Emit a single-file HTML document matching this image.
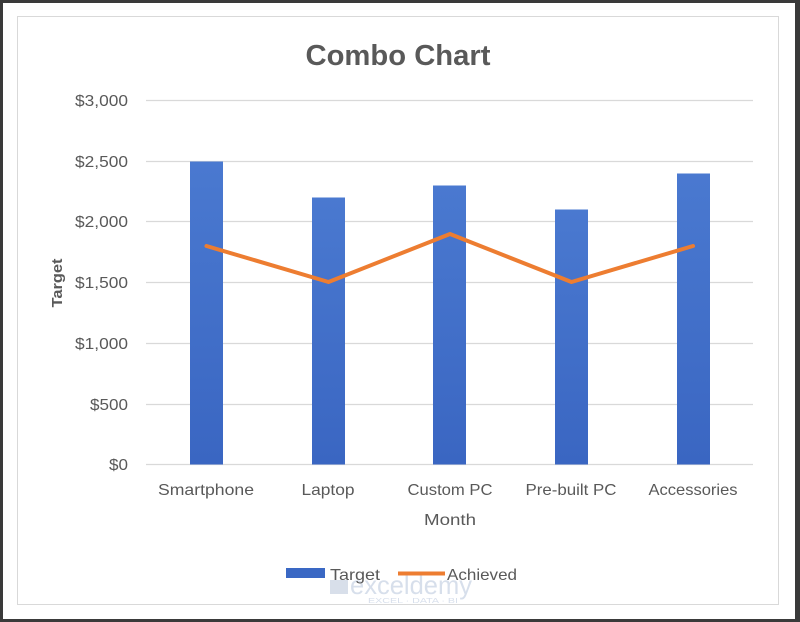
<!DOCTYPE html>
<html>
<head>
<meta charset="utf-8">
<style>
  html, body { margin:0; padding:0; background:#fff; }
  body { width:800px; height:622px; overflow:hidden; }
  svg { display:block; }
  text { font-family: "Liberation Sans", sans-serif; }
</style>
</head>
<body>
<svg width="800" height="622" viewBox="0 0 800 622" xmlns="http://www.w3.org/2000/svg">
  <defs>
    <linearGradient id="bar" x1="0" y1="0" x2="0" y2="1">
      <stop offset="0" stop-color="#4a79d0"/>
      <stop offset="1" stop-color="#3a66c2"/>
    </linearGradient>
  </defs>
  <!-- outer dark frame -->
  <rect x="0" y="0" width="800" height="622" fill="#3a3a3a"/>
  <rect x="3" y="3" width="792" height="616" fill="#ffffff"/>
  <!-- inner chart border -->
  <rect x="17.5" y="16.5" width="761" height="588" fill="#ffffff" stroke="#d9d9d9" stroke-width="1"/>

  <!-- title -->
  <text x="398" y="65" font-size="29" font-weight="bold" fill="#595959" text-anchor="middle" textLength="185" lengthAdjust="spacingAndGlyphs">Combo Chart</text>

  <!-- gridlines -->
  <g stroke="#d9d9d9" stroke-width="1.2">
    <line x1="146" y1="100.5" x2="753" y2="100.5"/>
    <line x1="146" y1="161.5" x2="753" y2="161.5"/>
    <line x1="146" y1="221.5" x2="753" y2="221.5"/>
    <line x1="146" y1="282.5" x2="753" y2="282.5"/>
    <line x1="146" y1="343.5" x2="753" y2="343.5"/>
    <line x1="146" y1="404.5" x2="753" y2="404.5"/>
    <line x1="146" y1="464.5" x2="753" y2="464.5"/>
  </g>

  <!-- y axis labels -->
  <g font-size="16" fill="#595959" text-anchor="end">
    <text x="128" y="106" textLength="53" lengthAdjust="spacingAndGlyphs">$3,000</text>
    <text x="128" y="167" textLength="53" lengthAdjust="spacingAndGlyphs">$2,500</text>
    <text x="128" y="227" textLength="53" lengthAdjust="spacingAndGlyphs">$2,000</text>
    <text x="128" y="288" textLength="53" lengthAdjust="spacingAndGlyphs">$1,500</text>
    <text x="128" y="349" textLength="53" lengthAdjust="spacingAndGlyphs">$1,000</text>
    <text x="128" y="410" textLength="38" lengthAdjust="spacingAndGlyphs">$500</text>
    <text x="128" y="470" textLength="19" lengthAdjust="spacingAndGlyphs">$0</text>
  </g>

  <!-- y axis title -->
  <text transform="translate(62,283) rotate(-90)" font-size="15" font-weight="bold" fill="#595959" text-anchor="middle" textLength="49" lengthAdjust="spacingAndGlyphs">Target</text>

  <!-- bars -->
  <g fill="url(#bar)">
    <rect x="190" y="161.5" width="33" height="303"/>
    <rect x="312" y="197.5" width="33" height="267"/>
    <rect x="433" y="185.5" width="33" height="279"/>
    <rect x="555" y="209.5" width="33" height="255"/>
    <rect x="677" y="173.5" width="33" height="291"/>
  </g>

  <!-- line -->
  <polyline points="206.5,246 328.5,282 450,234 571.5,282 693,246" fill="none" stroke="#ed7d31" stroke-width="4" stroke-linejoin="round" stroke-linecap="round"/>

  <!-- x labels -->
  <g font-size="16" fill="#595959" text-anchor="middle">
    <text x="206" y="495" textLength="96" lengthAdjust="spacingAndGlyphs">Smartphone</text>
    <text x="328" y="495" textLength="53" lengthAdjust="spacingAndGlyphs">Laptop</text>
    <text x="450" y="495" textLength="85" lengthAdjust="spacingAndGlyphs">Custom PC</text>
    <text x="571" y="495" textLength="91" lengthAdjust="spacingAndGlyphs">Pre-built PC</text>
    <text x="693" y="495" textLength="89" lengthAdjust="spacingAndGlyphs">Accessories</text>
    <text x="450" y="525" textLength="52" lengthAdjust="spacingAndGlyphs">Month</text>
  </g>

  <!-- watermark -->
  <g opacity="0.55">
    <rect x="330" y="580" width="18" height="14" fill="#b9c6da"/>
    <text x="350" y="594" font-size="26" fill="#b7c5dc" textLength="122" lengthAdjust="spacingAndGlyphs">exceldemy</text>
    <text x="368" y="603" font-size="7" fill="#b7c5dc" textLength="90" lengthAdjust="spacingAndGlyphs">EXCEL · DATA · BI</text>
  </g>

  <!-- legend -->
  <rect x="286" y="568" width="39" height="10" fill="#3a68c4"/>
  <text x="330" y="580" font-size="16" fill="#595959" textLength="50" lengthAdjust="spacingAndGlyphs">Target</text>
  <line x1="398" y1="573.5" x2="445" y2="573.5" stroke="#ed7d31" stroke-width="4"/>
  <text x="447" y="580" font-size="16" fill="#595959" textLength="70" lengthAdjust="spacingAndGlyphs">Achieved</text>
</svg>
</body>
</html>
